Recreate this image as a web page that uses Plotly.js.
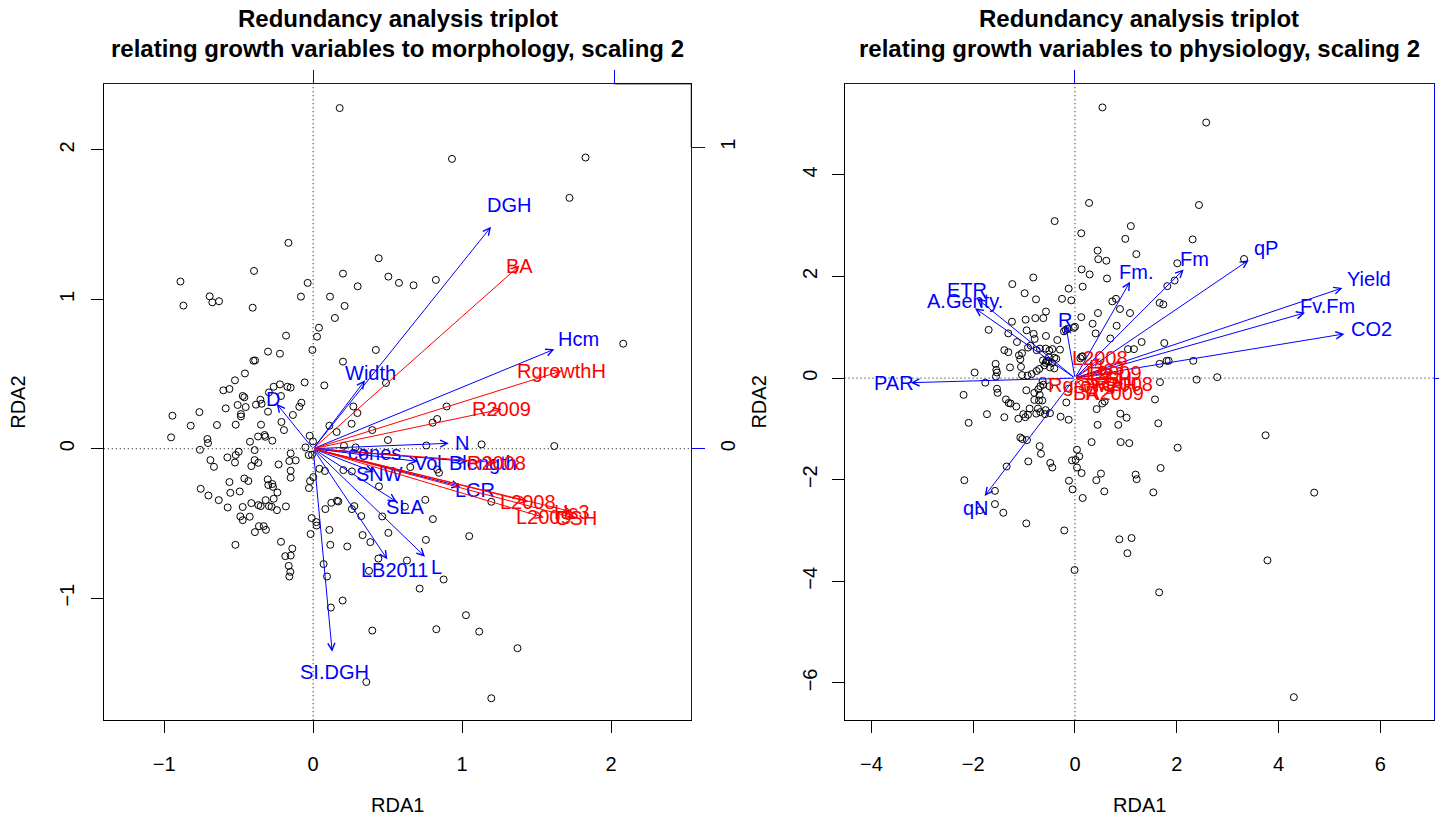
<!DOCTYPE html>
<html><head><meta charset="utf-8">
<script src="https://cdn.plot.ly/plotly-3.0.1.min.js"></script>
<style>html,body{margin:0;padding:0;background:#fff}#chart{width:1439px;height:819px}</style>
</head><body><div id="chart"></div>
<script>
// ================= LEFT PANEL: morphology =================
// site scores (RDA1, RDA2), scaling 2
const morphSiteRDA1 = [
0.178,-0.166,-0.397,-0.891,-0.871,-0.695,-0.677,-0.632,-0.406,-0.037,
-0.082,0.039,0.026,-0.005,-0.182,-0.303,-0.223,-0.401,-0.39,-0.458,
-0.525,-0.603,-0.562,-0.473,-0.462,-0.507,-0.453,-0.587,-0.764,-0.384,
-0.346,-0.354,-0.297,-0.265,-0.223,-0.173,-0.151,-0.216,-0.057,-0.079,
-0.093,0.113,0.2,0.211,0.146,0.299,0.44,0.505,0.576,0.421,
0.2,0.075,0.489,0.27,0.932,1.829,1.721,0.674,0.824,2.082,
0.896,0.833,0.802,0.76,1.131,1.619,0.652,0.833,0.845,0.753,
1.196,0.616,0.804,1.048,0.757,0.63,0.876,0.715,1.026,0.827,
1.115,1.372,1.196,-0.945,-0.954,-0.822,-0.303,-0.485,-0.485,-0.646,
-0.52,-0.35,-0.213,-0.196,-0.136,-0.71,-0.706,-0.76,-0.37,-0.326,
-0.321,-0.424,-0.274,-0.393,-0.5,-0.52,-0.576,-0.69,-0.666,-0.525,
-0.393,-0.368,-0.415,-0.232,-0.151,-0.16,-0.117,-0.151,-0.151,-0.052,
-0.023,-0.03,-0.008,0.109,0.158,0.297,0.258,0.397,0.502,0.207,
0.285,0.042,0.079,0.203,0.26,-0.562,-0.462,-0.435,-0.755,-0.556,
-0.493,-0.703,-0.634,-0.574,-0.473,-0.415,-0.368,-0.352,-0.319,-0.297,
-0.279,-0.305,-0.301,-0.274,-0.27,-0.24,-0.265,-0.243,-0.183,-0.489,
-0.473,-0.426,-0.364,-0.332,-0.317,-0.391,-0.522,-0.216,-0.14,-0.151,
-0.187,-0.164,-0.153,-0.16,-0.021,0.001,-0.028,-0.01,0.021,0.023,
-0.017,0.082,0.122,0.16,0.169,0.109,0.115,0.229,0.26,0.276,
0.323,0.332,0.384,0.464,0.505,0.438,0.375,0.07,0.093,0.198,
0.119,0.397,0.357,0.442,-0.001];
const morphSiteRDA2 = [
2.28,1.378,1.19,1.119,0.958,1.02,0.98,0.987,0.944,1.11,
1.018,0.81,0.75,0.661,0.757,0.65,0.636,0.589,0.591,0.504,
0.458,0.391,0.4,0.353,0.344,0.293,0.279,0.27,0.245,0.295,
0.301,0.328,0.377,0.415,0.431,0.415,0.409,0.353,0.444,0.308,
0.281,1.018,1.172,0.956,0.875,1.087,1.275,1.152,1.11,0.661,
0.583,0.424,0.44,0.283,1.94,1.949,1.679,1.094,1.13,0.703,
0.283,0.199,0.174,0.022,0.029,0.018,-0.123,-0.139,-0.161,-0.342,
-0.355,-0.388,-0.471,-0.585,-0.61,-0.748,-0.875,-0.936,-1.114,-1.208,
-1.224,-1.335,-1.67,0.221,0.076,0.154,0.248,0.232,0.216,0.159,
0.161,0.161,0.179,0.125,0.226,0.065,0.038,-0.007,0.082,0.092,
0.08,0.047,0.054,-0.009,-0.02,-0.042,-0.058,-0.076,-0.121,-0.092,
-0.076,-0.094,-0.116,-0.105,-0.031,-0.082,-0.078,-0.147,-0.194,0.009,
0.087,-0.042,-0.04,0.154,0.112,0.239,0.167,0.125,0.058,0.02,
0.009,-0.134,-0.149,-0.143,-0.152,-0.223,-0.199,-0.216,-0.268,-0.295,
-0.286,-0.313,-0.344,-0.393,-0.39,-0.364,-0.377,-0.384,-0.344,-0.384,
-0.388,-0.205,-0.243,-0.236,-0.255,-0.293,-0.335,-0.411,-0.386,-0.453,
-0.478,-0.455,-0.518,-0.518,-0.543,-0.558,-0.643,-0.623,-0.668,-0.715,
-0.719,-0.784,-0.824,-0.855,-0.216,-0.19,-0.263,-0.464,-0.491,-0.514,
-0.571,-0.404,-0.362,-0.348,-0.353,-0.543,-0.643,-0.654,-0.404,-0.384,
-0.451,-0.578,-0.625,-0.453,-0.563,-0.735,-0.817,-0.772,-0.855,-1.016,
-1.063,-1.217,-1.561,-0.252,0.049];
// explanatory (morphology) biplot arrows, blue
const morphVarNames = ['DGH','Hcm','Width','D','N','cones','Vol','Blength','SNW','LCR','SLA','LB2011','L','SI.DGH'];
const morphVarRDA1 = [0.590,0.800,0.172,-0.121,0.450,0.186,0.347,0.512,0.201,0.488,0.277,0.246,0.371,0.063];
const morphVarRDA2 = [0.736,0.330,0.227,0.149,0.018,-0.014,-0.042,-0.042,-0.077,-0.125,-0.176,-0.367,-0.358,-0.673];
// response (growth) arrows, red
const morphRespNames = ['BA','RgrowthH','R2009','R2008','L2008','L2009','Hs3','CSH'];
const morphRespRDA1 = [0.684,0.824,0.625,0.609,0.713,0.765,0.858,0.871];
const morphRespRDA2 = [0.607,0.258,0.131,-0.046,-0.176,-0.228,-0.209,-0.231];

// ================= RIGHT PANEL: physiology =================
const physSiteRDA1 = [
0.54,2.578,0.277,2.436,-0.399,1.098,3.322,2.795,3.745,4.7,
3.782,1.654,4.3,-0.008,0.872,1.112,1.03,-0.21,0.124,0.989,
2.312,0.445,1.205,0.458,0.616,2.01,0.131,0.288,-0.819,0.629,
-1.231,0.151,1.814,1.958,-0.989,-0.124,-0.255,-0.072,-0.766,0.733,
0.806,0.884,1.663,1.735,-0.57,0.452,1.081,0.124,-0.779,-0.622,
-0.969,-1.238,0.347,0.819,-1.696,-1.31,-0.95,-0.812,-0.792,-0.57,
-0.347,-0.216,-0.183,-0.144,-0.026,0.0,0.406,0.694,1.041,1.159,
1.31,1.755,2.325,1.663,1.801,1.84,2.39,1.67,-1.14,-1.388,
-1.31,-1.1,-1.074,-1.041,-0.923,-0.871,-0.753,-0.688,-0.576,-0.504,
-0.445,-0.295,-1.559,-1.546,-1.532,-1.552,-1.971,-1.277,-1.061,-1.041,
-0.93,-0.851,-0.753,-0.701,-0.602,-0.557,-0.511,-0.452,-0.406,-0.367,
-0.629,-0.576,-0.524,-0.406,-0.491,-1.762,-2.188,-2.089,-1.729,-1.532,
-1.52,-1.356,-1.303,-1.264,-1.388,-1.153,-1.113,-1.015,-0.976,-0.923,
-0.956,-0.799,-0.72,-0.694,-0.681,-0.622,-0.799,-0.707,-0.642,-0.891,
-0.727,-0.76,-0.681,-0.589,-0.576,-0.504,-0.635,-0.491,-0.282,-0.124,
-0.17,-0.124,-1.074,-1.035,-0.943,-0.694,-0.668,-0.917,-0.485,-0.445,
-1.343,-2.174,-1.572,-1.572,-1.866,-1.408,-0.956,0.039,0.085,0.013,
-0.059,0.039,0.131,-0.118,-0.046,0.151,0.419,0.511,0.576,0.327,
0.445,0.426,0.537,0.583,0.891,1.015,0.851,0.897,1.067,1.192,
1.212,1.539,1.683,2.017,1.637,1.572,0.105,0.131,0.151];
const physSiteRDA2 = [
5.327,5.03,3.447,3.406,3.09,2.992,2.344,0.018,-1.126,-2.254,
-3.587,-4.217,-6.28,-3.778,-3.173,-3.148,-3.447,-2.998,2.85,2.74,
2.73,2.51,2.44,2.34,2.31,2.26,2.14,2.04,1.98,1.96,
1.85,1.8,1.81,1.92,1.67,1.76,1.56,1.53,1.55,1.51,
1.56,1.36,1.48,1.45,1.31,1.28,1.28,1.2,1.18,1.18,
1.15,1.11,1.07,1.03,0.95,0.88,0.94,0.87,0.77,0.83,
0.75,0.92,0.95,0.97,0.99,1.01,0.88,0.78,0.57,0.57,
0.71,0.69,0.34,0.28,0.34,0.34,-0.03,-0.08,0.71,0.55,
0.51,0.45,0.37,0.49,0.6,0.64,0.55,0.58,0.58,0.54,
0.57,0.56,0.28,0.16,0.11,0.03,0.11,0.21,0.22,0.06,
0.05,0.08,0.14,0.18,0.25,0.34,0.41,0.3,0.4,0.38,
0.35,0.3,0.33,0.19,0.21,-0.09,-0.33,-0.88,-0.71,-0.21,
-0.29,-0.42,-0.49,-0.5,-0.77,-0.56,-0.8,-0.71,-0.77,-0.72,
-0.24,-0.29,-0.22,-0.33,-0.16,-0.13,-0.43,-0.44,-0.44,-0.6,
-0.6,-0.7,-0.67,-0.71,-0.63,-0.16,-0.06,-0.69,-0.76,-0.82,
-0.48,-0.21,-1.17,-1.2,-1.22,-1.34,-1.49,-1.64,-1.67,-1.76,
-1.74,-2.01,-2.22,-2.48,-2.6,-2.65,-2.86,-1.41,-1.54,-1.61,
-1.62,-1.76,-1.87,-2.02,-2.19,-2.36,-2.01,-1.88,-2.23,-1.26,
-0.92,-0.61,-0.5,-0.46,-0.7,-0.78,-0.92,-1.26,-1.28,-1.9,
-1.99,-2.25,-1.77,-1.37,-0.89,-0.42,0.39,0.42,0.43];
// explanatory (physiology) biplot arrows, blue
const physVarNames = ['Yield','Fv.Fm','CO2','qP','Fm','Fm.','R','ETR','A.Genty.','PAR','qN'];
const physVarRDA1 = [5.255,4.519,5.293,3.413,2.136,1.082,-0.18,-1.93,-1.965,-3.226,-1.774];
const physVarRDA2 = [1.774,1.285,0.870,2.321,2.138,1.898,1.04,1.57,1.374,-0.09,-2.319];
// response (growth) arrows, red
const physRespNames = ['BA','RgrowthH','R2009','R2008','L2008','L2009','Hs3','CSH'];
const physRespRDA1 = [0.236,0.344,0.786,0.957,0.49,0.76,0.62,0.70];
const physRespRDA2 = [-0.30,-0.136,-0.30,-0.116,0.39,0.094,0.20,-0.02];

// ================= layout geometry =================
const FONT = 'Liberation Sans, Arial, Helvetica, sans-serif';
const BLUE = '#0000ff', RED = '#ff0000';
const domL = [0.0721, 0.4804], domR = [0.5869, 0.9965], domY = [0.1206, 0.8976];
const rxL = [-1.406, 2.539], ryL = [-1.817, 2.442];
const rxR = [-4.527, 7.053], ryR = [-6.734, 5.791];
const rx3 = [-0.6945, 1.2541], ry3 = [-0.9005, 1.2100];
const LABEL_MULT = 1.1; // explanatory labels sit beyond arrow tips

function mainAxis(domain, range, anchor, tickvals) {
  return {domain, range, anchor, tickvals, ticktext: tickvals.map(v => v < 0 ? '\u2212' + Math.abs(v) : String(v)),
    ticks: 'outside', ticklen: 12, tickwidth: 1, tickcolor: '#000',
    showline: true, linecolor: '#000', linewidth: 1, mirror: false,
    showgrid: false, zeroline: false, fixedrange: true,
    tickfont: {family: FONT, size: 20, color: '#000'}};
}

const traces = [
  {x: morphSiteRDA1, y: morphSiteRDA2, xaxis: 'x', yaxis: 'y', type: 'scatter', mode: 'markers',
   marker: {symbol: 'circle-open', size: 7, color: '#000', line: {width: 1, color: '#000'}}, hoverinfo: 'skip', showlegend: false},
  {x: physSiteRDA1, y: physSiteRDA2, xaxis: 'x2', yaxis: 'y2', type: 'scatter', mode: 'markers',
   marker: {symbol: 'circle-open', size: 7, color: '#000', line: {width: 1, color: '#000'}}, hoverinfo: 'skip', showlegend: false},
  // anchors for the secondary (biplot-score) axes
  {x: [0], y: [0], xaxis: 'x3', yaxis: 'y3', type: 'scatter', mode: 'markers', marker: {opacity: 0}, hoverinfo: 'skip', showlegend: false},
  {x: [0], y: [0], xaxis: 'x4', yaxis: 'y4', type: 'scatter', mode: 'markers', marker: {opacity: 0}, hoverinfo: 'skip', showlegend: false}
];

const ann = [];
function arrows(xs, ys, xr, yr, color) {
  xs.forEach((v, i) => ann.push({x: v, y: ys[i], xref: xr, yref: yr, ax: 0, ay: 0, axref: xr, ayref: yr,
    text: '', showarrow: true, arrowhead: 5, arrowsize: 1.4, arrowwidth: 1, arrowcolor: color, standoff: 0, startstandoff: 0}));
}
function labels(names, xs, ys, mult, xr, yr, color) {
  names.forEach((n, i) => ann.push({x: xs[i] * mult, y: ys[i] * mult, xref: xr, yref: yr, text: n, showarrow: false,
    xanchor: 'center', yanchor: 'middle', font: {family: FONT, size: 20, color}}));
}
arrows(morphVarRDA1, morphVarRDA2, 'x3', 'y3', BLUE);
labels(morphVarNames, morphVarRDA1, morphVarRDA2, LABEL_MULT, 'x3', 'y3', BLUE);
arrows(morphRespRDA1, morphRespRDA2, 'x3', 'y3', RED);
labels(morphRespNames, morphRespRDA1, morphRespRDA2, 1, 'x3', 'y3', RED);
arrows(physVarRDA1, physVarRDA2, 'x2', 'y2', BLUE);
labels(physVarNames, physVarRDA1, physVarRDA2, LABEL_MULT, 'x2', 'y2', BLUE);
arrows(physRespRDA1, physRespRDA2, 'x2', 'y2', RED);
labels(physRespNames, physRespRDA1, physRespRDA2, 1, 'x2', 'y2', RED);

// titles and axis titles
const titleL1 = 'Redundancy analysis triplot';
const titleL2 = ['relating growth variables to morphology, scaling 2', 'relating growth variables to physiology, scaling 2'];
[domL, domR].forEach((d, k) => {
  const cx = (d[0] + d[1]) / 2;
  ann.push({xref: 'paper', yref: 'paper', x: cx, y: 1 - 18 / 819, text: '<b>' + titleL1 + '</b>', showarrow: false,
    xanchor: 'center', yanchor: 'middle', font: {family: FONT, size: 24, color: '#000'}});
  ann.push({xref: 'paper', yref: 'paper', x: cx, y: 1 - 48 / 819, text: '<b>' + titleL2[k] + '</b>', showarrow: false,
    xanchor: 'center', yanchor: 'middle', font: {family: FONT, size: 24, color: '#000'}});
  ann.push({xref: 'paper', yref: 'paper', x: cx, y: 1 - 805 / 819, text: 'RDA1', showarrow: false,
    xanchor: 'center', yanchor: 'middle', font: {family: FONT, size: 20, color: '#000'}});
  ann.push({xref: 'paper', yref: 'paper', x: d[0] - 86 / 1439, y: (domY[0] + domY[1]) / 2, text: 'RDA2', showarrow: false,
    textangle: -90, xanchor: 'center', yanchor: 'middle', font: {family: FONT, size: 20, color: '#000'}});
});

const dotted = {color: '#000', width: 1, dash: '1px,3px'};
const shapes = [
  {type: 'line', xref: 'x', yref: 'y domain', x0: 0, x1: 0, y0: 0, y1: 1, line: dotted, layer: 'below'},
  {type: 'line', xref: 'x domain', yref: 'y', x0: 0, x1: 1, y0: 0, y1: 0, line: dotted, layer: 'below'},
  {type: 'line', xref: 'x2', yref: 'y2 domain', x0: 0, x1: 0, y0: 0, y1: 1, line: dotted, layer: 'below'},
  {type: 'line', xref: 'x2 domain', yref: 'y2', x0: 0, x1: 1, y0: 0, y1: 0, line: dotted, layer: 'below'},
  // box parts not covered by the blue biplot axes (left panel)
  {type: 'line', xref: 'x3', yref: 'paper', x0: 1, x1: rx3[1], y0: domY[1], y1: domY[1], line: {color: '#000', width: 1}},
  {type: 'line', xref: 'paper', yref: 'y3', x0: domL[1], x1: domL[1], y0: 1, y1: ry3[1], line: {color: '#000', width: 1}}
];

const layout = {
  width: 1439, height: 819, margin: {l: 0, r: 0, t: 0, b: 0},
  paper_bgcolor: '#fff', plot_bgcolor: '#fff', showlegend: false,
  font: {family: FONT, size: 20, color: '#000'},
  xaxis: Object.assign(mainAxis(domL, rxL, 'y', [-1, 0, 1, 2]), {ticklabelstandoff: 14}),
  yaxis: Object.assign(mainAxis(domY, ryL, 'x', [-1, 0, 1, 2]), {tickangle: -90, ticklabelstandoff: 9}),
  xaxis2: Object.assign(mainAxis(domR, rxR, 'y2', [-4, -2, 0, 2, 4, 6]), {ticklabelstandoff: 14}),
  yaxis2: Object.assign(mainAxis(domY, ryR, 'x2', [-6, -4, -2, 0, 2, 4]), {tickangle: -90, ticklabelstandoff: 7}),
  xaxis3: {overlaying: 'x', side: 'top', anchor: 'y3', range: rx3, tickvals: [0, 1], ticks: 'outside', ticklen: 13,
    tickcolor: BLUE, showticklabels: false, showline: true, linecolor: BLUE, showgrid: false, zeroline: false, fixedrange: true},
  yaxis3: {overlaying: 'y', side: 'right', anchor: 'x3', range: ry3, tickvals: [0, 1], ticktext: ['0', '1'], ticks: 'outside', ticklen: 13,
    tickcolor: BLUE, tickangle: -90, ticklabelstandoff: 6, tickfont: {family: FONT, size: 20, color: '#000'},
    showline: true, linecolor: BLUE, showgrid: false, zeroline: false, fixedrange: true},
  xaxis4: {overlaying: 'x2', side: 'top', anchor: 'y4', range: rxR, tickvals: [0], ticks: 'outside', ticklen: 13,
    tickcolor: BLUE, showticklabels: false, showline: true, linecolor: BLUE, showgrid: false, zeroline: false, fixedrange: true},
  yaxis4: {overlaying: 'y2', side: 'right', anchor: 'x4', range: ryR, tickvals: [0], ticks: 'outside', ticklen: 13,
    tickcolor: BLUE, showticklabels: false, showline: true, linecolor: BLUE, showgrid: false, zeroline: false, fixedrange: true},
  annotations: ann,
  shapes: shapes
};

Plotly.newPlot('chart', traces, layout, {displayModeBar: false, staticPlot: true});
</script>
</body></html>
